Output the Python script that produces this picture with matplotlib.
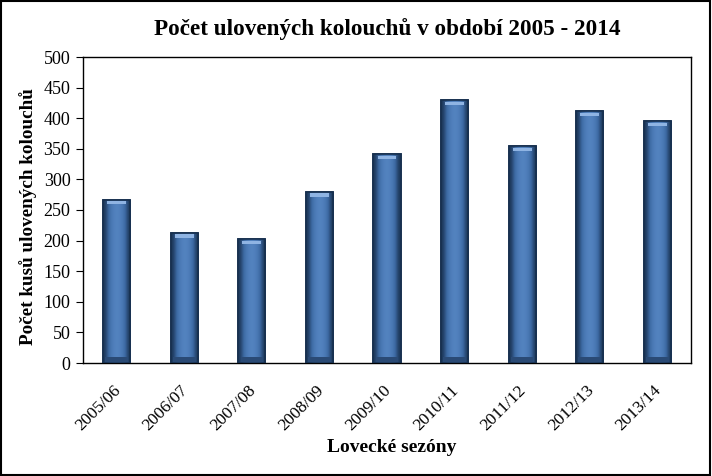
import matplotlib
matplotlib.use("Agg")
import matplotlib.pyplot as plt
import matplotlib.transforms as mtransforms
import numpy as np
from matplotlib.patches import Rectangle
from matplotlib.colors import LinearSegmentedColormap

seasons = ["2005/06", "2006/07", "2007/08", "2008/09", "2009/10",
           "2010/11", "2011/12", "2012/13", "2013/14"]
counts = [267, 213, 203, 280, 342, 429, 355, 411, 395]

plt.rcParams['font.family'] = ['Liberation Serif', 'DejaVu Serif']

fig = plt.figure(figsize=(7.12, 4.76), dpi=100)
ax = fig.add_axes([83/712, 1-363/476, (691-83)/712, (363-57)/476])

x = np.arange(len(seasons))
bars = ax.bar(x, counts, width=0.4, color='#4f81bd', edgecolor='#17304f', linewidth=1.2, zorder=2)

grad = np.array([[0.0, 0.55, 0.8, 0.9, 0.8, 0.55, 0.0]])
cmap = LinearSegmentedColormap.from_list('b', ['#1c3658', '#3d6aa3', '#5a8bc9'])
for b in bars:
    bx, by, bw, bh = b.get_x(), b.get_y(), b.get_width(), b.get_height()
    im = ax.imshow(grad, cmap=cmap, aspect='auto', extent=[bx, bx+bw, by, by+bh],
                   zorder=3, interpolation='bicubic', vmin=0, vmax=1)
    im.set_clip_path(b)
    ax.add_patch(Rectangle((bx, by), bw, bh, fill=False, edgecolor='#17304f', linewidth=1.2, zorder=4))
    ax.add_patch(Rectangle((bx+bw*0.15, by+bh-8), bw*0.7, 5, color='#8fb4e3', zorder=4, linewidth=0))
    ax.add_patch(Rectangle((bx+bw*0.08, by+1), bw*0.84, 8, color='#2a4a75', zorder=4, linewidth=0))

ax.set_xlim(-0.5, len(seasons)-0.5)
ax.set_ylim(0, 500)
ax.set_yticks(np.arange(0, 501, 50))
ax.set_xticks(x)
ax.set_xticklabels(seasons, rotation=45, ha='right', rotation_mode='anchor', fontsize=12.5)
ax.tick_params(axis='y', labelsize=13, length=5, direction='out', pad=4)
ax.tick_params(axis='x', length=0, pad=14)
shift = mtransforms.ScaledTranslation(-4/100, 0, fig.dpi_scale_trans)
for lab in ax.get_xticklabels():
    lab.set_transform(lab.get_transform() + shift)
for s in ax.spines.values():
    s.set_linewidth(1.0)
    s.set_color('black')

ax.set_ylabel("Počet kusů ulovených kolouchů", fontsize=13.8, fontweight='bold')
ax.yaxis.set_label_coords(-(83-37)/608, (363-217)/306)
ax.set_xlabel("Lovecké sezóny", fontsize=14, fontweight='bold', va='center')
ax.xaxis.set_label_coords((392-83)/608, -(448-363)/306)
fig.text(387/712, 1-29/476, "Počet ulovených kolouchů v období 2005 - 2014", ha='center', va='center',
         fontsize=16.7, fontweight='bold')

fig.patches.append(Rectangle((0.002, 0.003), 0.995, 0.994, transform=fig.transFigure,
                             fill=False, edgecolor='black', linewidth=1.5))

fig.savefig("out.png", dpi=100)
